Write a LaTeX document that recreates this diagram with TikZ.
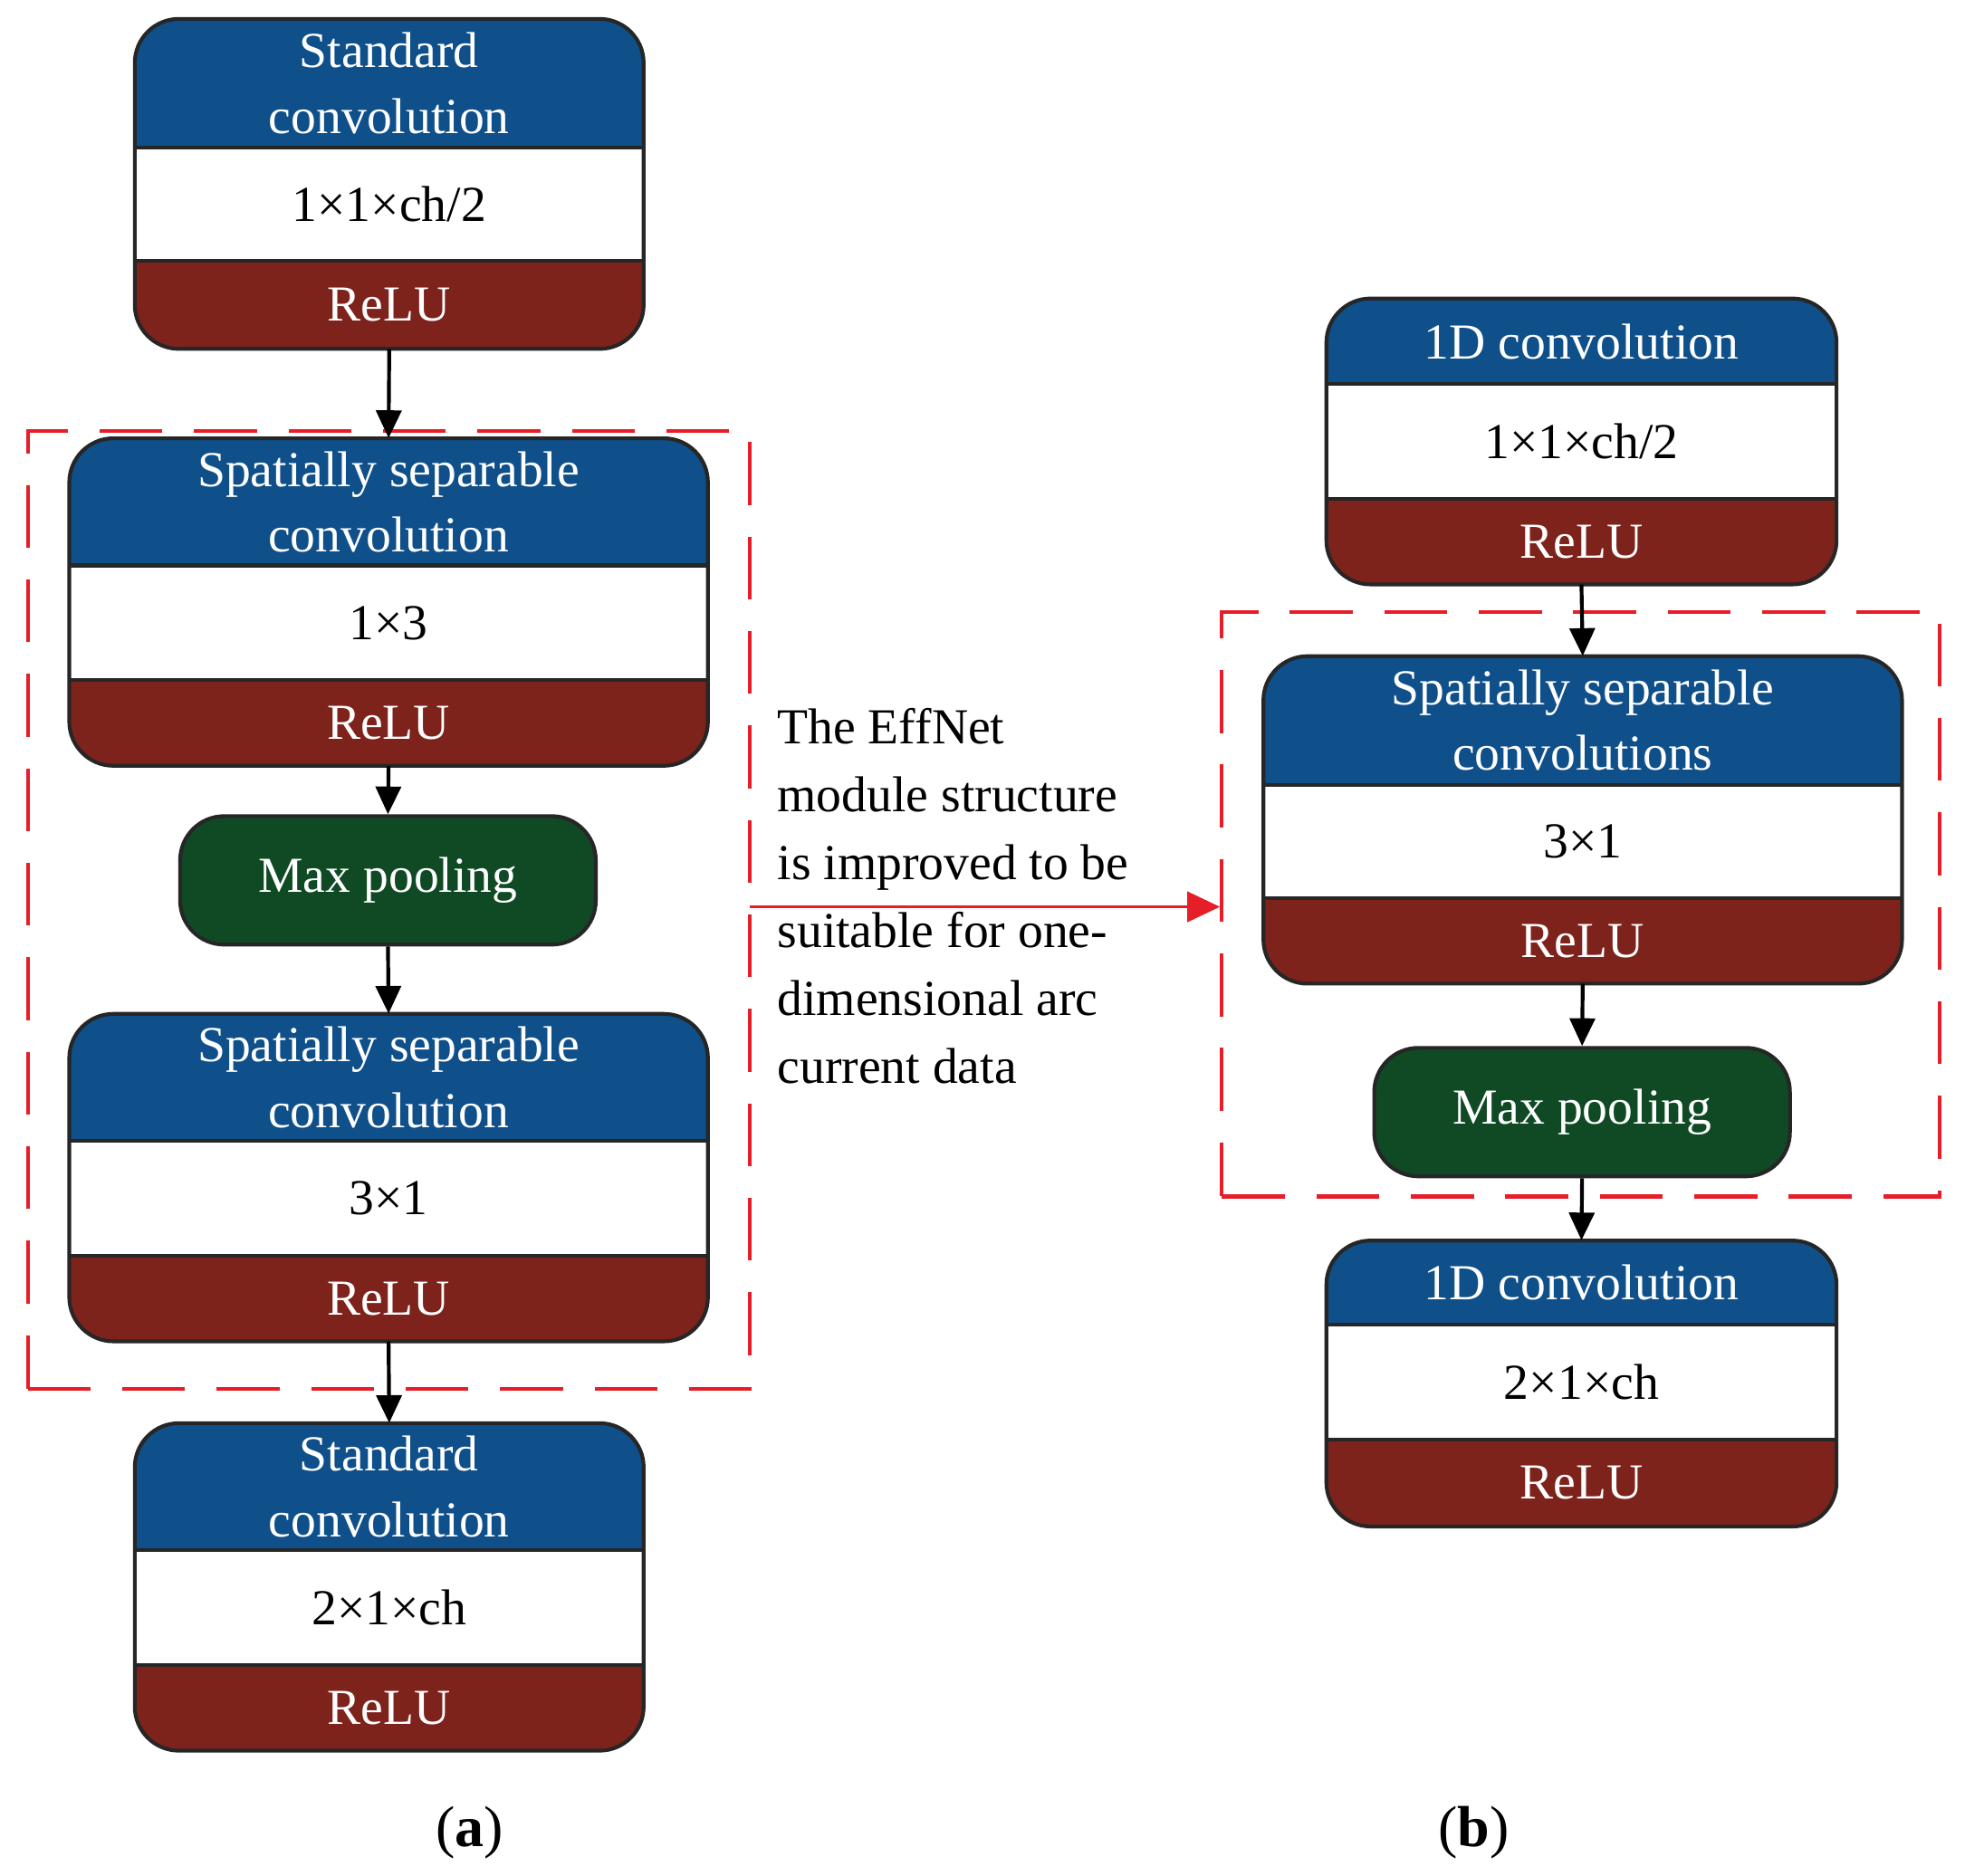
\documentclass[tikz,border=0pt]{standalone}
\usepackage{fontspec}
\setmainfont{Liberation Serif}
\usetikzlibrary{arrows.meta,fit}
\definecolor{cblue}{HTML}{0F4F8A}
\definecolor{cred}{HTML}{7E231C}
\definecolor{cgreen}{HTML}{0F4A25}
\definecolor{cline}{HTML}{262626}
\tikzset{
 outline/.style={draw=cline,line width=3pt},
 wt/.style={text=white,align=center,font=\fontsize{40}{52}\selectfont},
 bt/.style={text=black,align=center,font=\fontsize{40}{52}\selectfont},
 pool/.style={outline,fill=cgreen,rounded corners=35pt,wt,minimum width=330pt,minimum height=102pt},
 arr/.style={line width=3pt,-{Triangle[length=22pt,width=20pt]}},
 dbox/.style={draw={rgb,255:red,230;green,30;blue,40},line width=3pt,dash pattern=on 50pt off 25pt},
 rarr/.style={draw={rgb,255:red,230;green,30;blue,40},line width=2.5pt,-{Triangle[length=26pt,width=24pt]},fill={rgb,255:red,230;green,30;blue,40}},
}
\newcommand\blk[9]{%
\begin{scope}
\clip[rounded corners=35pt] (#2,#4) rectangle (#3,#7);
\fill[cblue] (#2,#4) rectangle (#3,#5);
\fill[white] (#2,#5) rectangle (#3,#6);
\fill[cred] (#2,#6) rectangle (#3,#7);
\end{scope}
\draw[outline] (#2,#5)--(#3,#5) (#2,#6)--(#3,#6);
\draw[outline,rounded corners=35pt] (#2,#4) rectangle (#3,#7);
\node[wt] at ({(#2+#3)/2},{(#4+#5)/2}) {#8};
\node[bt] at ({(#2+#3)/2},{(#5+#6)/2}) {#9};
\node[wt] at ({(#2+#3)/2},{(#6+#7)/2}) {ReLU};
\node[inner sep=0pt,fit={(#2,#4)(#3,#7)}] (#1) {};
}
\begin{document}
\begin{tikzpicture}[x=1pt,y=-1pt]
\useasboundingbox[fill=white] (0,0) rectangle (1560,1489);
% left
\node[dbox,inner sep=0pt,fit={(22,342)(595,1103)}] (dl) {};
\blk{a1}{107}{511}{15}{117}{207}{277}{Standard\\convolution}{1×1×ch/2}
\blk{a2}{55}{562}{348}{449}{540}{608}{Spatially separable\\convolution}{1×3}
\node[pool] (ap) at (308,699) {Max pooling};
\blk{a3}{55}{562}{805}{906}{997}{1065}{Spatially separable\\convolution}{3×1}
\blk{a4}{107}{511}{1130}{1231}{1322}{1390}{Standard\\convolution}{2×1×ch}
\draw[arr] (a1.south) -- (a2.north);
\draw[arr] (a2.south) -- (ap.north);
\draw[arr] (ap.south) -- (a3.north);
\draw[arr] (a3.south) -- (a4.north);
% right
\node[dbox,inner sep=0pt,fit={(970,486)(1540,950)}] (dr) {};
\blk{b1}{1053}{1458}{237}{305}{396}{464}{1D convolution}{1×1×ch/2}
\blk{b2}{1003}{1510}{521}{623}{713}{781}{Spatially separable\\convolutions}{3×1}
\node[pool] (bp) at (1256,883) {Max pooling};
\blk{b3}{1053}{1458}{985}{1052}{1143}{1212}{1D convolution}{2×1×ch}
\draw[arr] (b1.south) -- (b2.north);
\draw[arr] (b2.south) -- (bp.north);
\draw[arr] (bp.south) -- (b3.north);
% middle
\draw[rarr] (595,720) coordinate (rs) -- (rs -| dr.west);
\node[anchor=north west,align=left,inner sep=0pt,font=\fontsize{40}{54}\selectfont] (txt) at (617,562)
 {The EffNet\\module structure\\is improved to be\\suitable for one-\\dimensional arc\\current data};
\node[font=\fontsize{46}{50}\selectfont] (la) at (373,1455) {(\textbf{a})};
\node[font=\fontsize{46}{50}\selectfont] (lb) at (1170,1455) {(\textbf{b})};
\end{tikzpicture}
\end{document}
